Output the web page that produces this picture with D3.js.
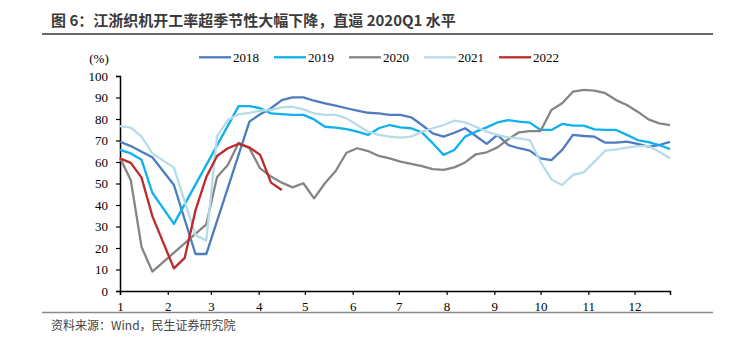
<!DOCTYPE html>
<html>
<head>
<meta charset="utf-8">
<script src="https://cdn.jsdelivr.net/npm/d3@7"></script>
<style>
  body { margin: 0; background: #fff; }
  svg { display: block; }
</style>
</head>
<body>
<svg id="chart" width="740" height="347"></svg>
<script>
// weekly loom operating rate (%), index = week of year, null = no reading
const years = ["2018", "2019", "2020", "2021", "2022"];
const colors = ["#4D7DBF", "#0FB0EE", "#858585", "#B5DCE8", "#BD2A2A"];

const v2018 = [69.4, 67.4, 64.8, 62.2, null, 49.3, null, 17.2, 17.2, null, null, null, 78.8, 82.2, 85, 88.8,
  90.1, 90.1, 88.5, 87.3, 86.2, 85, 83.9, 82.9, 82.6, 81.9, 81.9, 80.8, 77.2, 73.3, 71.8, 73.6, 75.7, 72.1,
  68.4, 72.6, 67.9, 66.4, 65.3, 61.7, 60.9, 65.6, 72.6, 72.1, 71.8, 69, 69, 69.5, 68.4, 67.1, 67.9, 69.4];
const v2019 = [65.6, 64, 61, 45.7, null, 31.2, null, null, null, null, null, 86, 86, 85, 82.6, 82.3,
  81.9, 81.9, 79.8, 76.4, 76, 75.3, 74.1, 72.6, 75.7, 77.2, 76.1, 75.7, 73.8, 68.7, 63.3, 65.6, 71.8, 74.1,
  76.1, 78.4, 79.5, 78.8, 78.3, 74.9, 74.9, 77.7, 76.9, 76.9, 75.2, 74.9, 74.9, 72.6, 70.2, 69.2, 67.9, 66];
const v2020 = [62, 51.5, 20.5, 9, null, null, null, null, 31, 53, 58.6, 69, 66.4, 57, 53.2, 50.4,
  48.2, 50.1, 43.1, 50.1, 55.8, 64.3, 66.4, 65.1, 62.8, 61.7, 60.2, 59.1, 58.1, 56.7, 56.3, 57.5, 59.8, 63.6,
  64.5, 66.8, 70.6, 73.8, 74.4, 74.4, 84.2, 87.3, 92.7, 93.5, 93.2, 92, 88.8, 86.5, 83.4, 79.8, 78, 77.2];
const v2021 = [76.7, 76, 71.8, 64, null, 57.4, null, 26, 23.5, 72, 79.5, 82.2, 82.9, 83.8, 84.3, 85.4,
  85.7, 84.5, 82.6, 81.9, 81.9, 80.3, 77.2, 74.1, 72.6, 71.8, 71.3, 71.8, 74.1, 75.7, 77.2, 79.2, 78.4, 76.4,
  74.1, 72.6, 71.5, 71, 70.2, 60, 51.9, 49.3, 54, 55.2, 60.2, 65.3, 65.9, 66.7, 67.4, 67.4, 64.8, 61.7];
const v2022 = [61.7, 59.6, 52.7, 34.8, null, 10.5, 15.4, 37.5, 53, 62.8, 66.4, 68.4, 66.8, 63.3, 50.4, 47];

const seriesValues = [v2018, v2019, v2020, v2021, v2022];

// month ticks sit on the first day of each month, measured in weeks
const monthStartDays = [0, 31, 59, 90, 120, 151, 181, 212, 243, 273, 304, 334];
const monthLabels = ["1", "2", "3", "4", "5", "6", "7", "8", "9", "10", "11", "12"];
const yTicks = [0, 10, 20, 30, 40, 50, 60, 70, 80, 90, 100];

const svg = d3.select("#chart");
const serif = "'Liberation Serif', 'Times New Roman', serif";
const cjk = "'Noto Sans CJK SC', sans-serif";

// title + rules
svg.append("text")
  .attr("x", 51).attr("y", 25.5)
  .attr("font-family", cjk).attr("font-weight", "bold")
  .attr("font-size", 15).attr("fill", "#3a3a3a")
  .text("图 6：江浙织机开工率超季节性大幅下降，直逼 2020Q1 水平");

svg.append("line")
  .attr("x1", 42).attr("x2", 713).attr("y1", 34).attr("y2", 34)
  .attr("stroke", "#6a6a6a").attr("stroke-width", 2);

svg.append("line")
  .attr("x1", 42).attr("x2", 713).attr("y1", 312.5).attr("y2", 312.5)
  .attr("stroke", "#8a8a8a").attr("stroke-width", 1.5);

svg.append("text")
  .attr("x", 51).attr("y", 330)
  .attr("font-family", cjk).attr("font-size", 12).attr("fill", "#444")
  .text("资料来源：Wind，民生证券研究院");

// scales
const x = d3.scaleLinear().domain([0, 51]).range([120, 670]);
const y = d3.scaleLinear().domain([0, 100]).range([291, 76]);

// axes
const yAxis = svg.append("g")
  .attr("transform", "translate(120,0)")
  .call(d3.axisLeft(y).tickValues(yTicks).tickSize(4).tickPadding(8));

const xAxis = svg.append("g")
  .attr("transform", "translate(0,291)")
  .call(d3.axisBottom(x)
    .tickValues(monthStartDays.map(d => d / 7))
    .tickFormat((d, i) => monthLabels[i])
    .tickSize(4).tickPadding(7));

[xAxis, yAxis].forEach(g => {
  g.select(".domain").attr("stroke", "#000").attr("stroke-width", 1.5);
  g.selectAll(".tick line").attr("stroke", "#000").attr("stroke-width", 1.2);
  g.selectAll(".tick text")
    .attr("font-family", serif).attr("font-size", 13).attr("fill", "#000");
});

svg.append("text")
  .attr("x", 99).attr("y", 62.5)
  .attr("text-anchor", "middle")
  .attr("font-family", serif).attr("font-size", 13)
  .text("(%)");

// lines, skipping weeks without a reading
const line = d3.line()
  .x(d => x(d.w))
  .y(d => y(d.v));

seriesValues.forEach((vals, i) => {
  const pts = vals.map((v, w) => ({ w: w, v: v })).filter(d => d.v !== null);
  svg.append("path")
    .datum(pts)
    .attr("fill", "none")
    .attr("stroke", colors[i])
    .attr("stroke-width", 2.3)
    .attr("stroke-linejoin", "round")
    .attr("d", line);
});

// legend
const legend = svg.append("g").attr("transform", "translate(199,0)");
years.forEach((yr, i) => {
  const g = legend.append("g").attr("transform", "translate(" + (i * 75) + ",0)");
  g.append("line")
    .attr("x1", 0).attr("x2", 32).attr("y1", 57.3).attr("y2", 57.3)
    .attr("stroke", colors[i]).attr("stroke-width", 2.3);
  g.append("text")
    .attr("x", 34).attr("y", 62)
    .attr("font-family", serif).attr("font-size", 13)
    .text(yr);
});
</script>
</body>
</html>
